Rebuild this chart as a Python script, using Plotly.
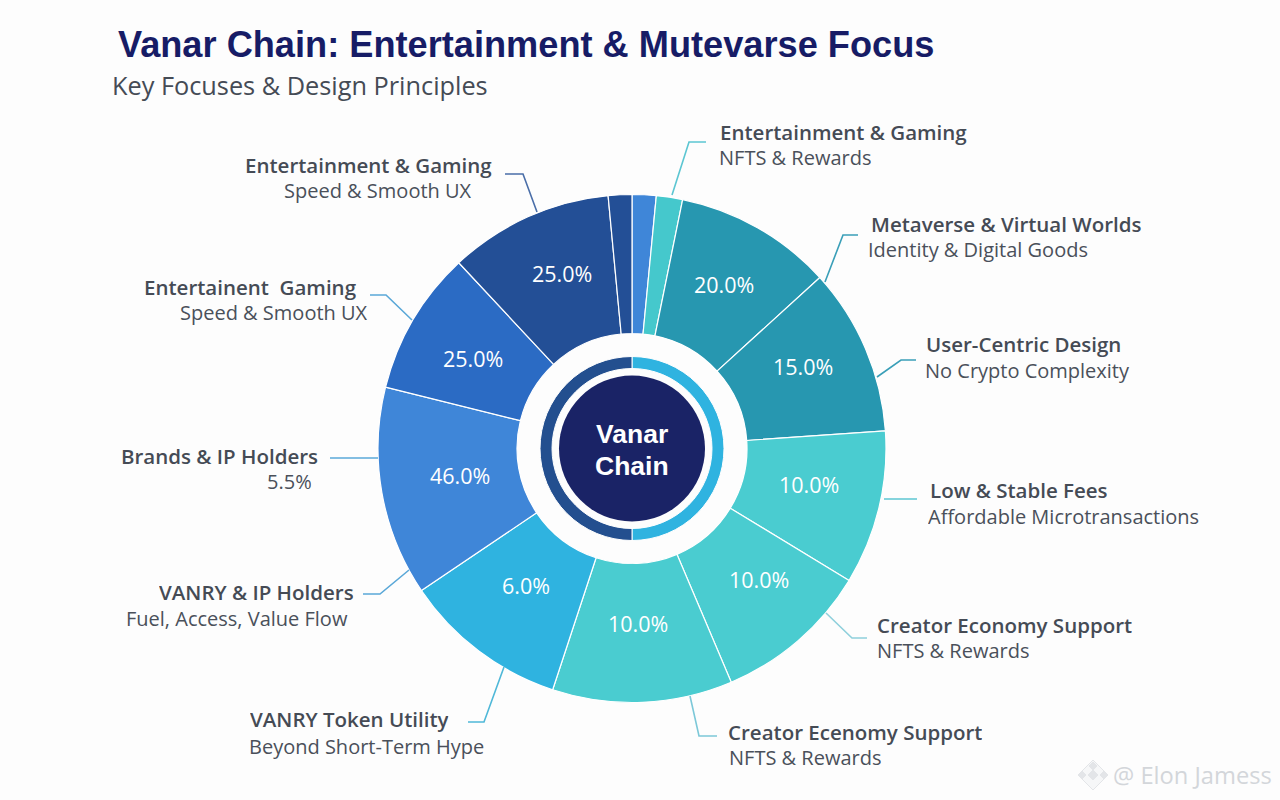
import plotly.graph_objects as go

W, H = 1280, 800
CX, CY = 632, 448.5

# Data
slice_sweep_deg = [5.5, 6, 36.2, 38.3, 35.3, 35.7, 41.2, 37.8, 48, 33, 37.6, 5.4]
slice_labels = ["20.0%", "15.0%", "10.0%", "10.0%", "10.0%", "6.0%", "46.0%", "25.0%", "25.0%"]
slice_colors = ["#3f86d8", "#45c8cc", "#2797b0", "#2797b0", "#4accd0", "#4accd0", "#4accd0",
                "#2fb3e0", "#3f86d8", "#2b6bc4", "#234f96", "#234f96"]
ring_values = [1, 1]
ring_colors = ["#2fb3e0", "#234f8f"]

headings = ["Entertainment & Gaming", "Metaverse & Virtual Worlds", "User-Centric Design", "Low & Stable Fees",
            "Creator Economy Support", "Creator Ecenomy Support", "VANRY Token Utility", "VANRY & IP Holders",
            "Brands & IP Holders", "Entertainent  Gaming", "Entertainment & Gaming"]
subheads = ["NFTS & Rewards", "Identity & Digital Goods", "No Crypto Complexity", "Affordable Microtransactions",
            "NFTS & Rewards", "NFTS & Rewards", "Beyond Short-Term Hype", "Fuel, Access, Value Flow",
            "5.5%", "Speed & Smooth UX", "Speed & Smooth UX"]

# Layout of the percentage labels and side labels
pct_pos = [(724, 284), (803, 366), (809, 485), (759, 579), (638, 623), (526, 585), (460, 475), (473, 358), (562, 273)]
label_pos = [(720, 133, 719, 158, "left"), (871, 226, 868, 251, "left"), (926, 345, 925, 371, "left"),
             (930, 491, 928, 517, "left"), (877, 626, 877, 651, "left"), (728, 733, 729, 758, "left"),
             (250, 720, 249, 747, "left"), (354, 593, 348, 619, "right"), (318, 457, 312, 482, "right"),
             (357, 288, 368, 313, "right"), (492, 167, 472, 192, "right")]
leaders = [([(672, 195), (689, 142), (706, 142)], "#5cc6d2"),
           ([(825, 282), (843, 235), (858, 235)], "#3a9fb8"),
           ([(877, 377), (901, 360), (916, 360)], "#3a9fb8"),
           ([(884, 499), (917, 499)], "#5cc6d2"),
           ([(826, 613), (852, 638), (867, 638)], "#8fd0dc"),
           ([(690, 696), (699, 736), (717, 736)], "#7cc8d8"),
           ([(504, 667), (484, 722), (468, 722)], "#4fb8d8"),
           ([(409, 570), (380, 594), (363, 594)], "#5aa8d8"),
           ([(378, 458), (330, 458)], "#5aa8d8"),
           ([(412, 320), (386, 295), (370, 295)], "#5aa8d8"),
           ([(537, 212), (523, 174), (505, 174)], "#4a6ea8")]


def px(x):
    return x / W


def py(y):
    return 1 - y / H


def dom(r):
    return dict(x=[px(CX - r), px(CX + r)], y=[py(CY + r), py(CY - r)])


fig = go.Figure()
fig.add_trace(go.Pie(values=slice_sweep_deg, textinfo="none", sort=False, direction="clockwise", rotation=0,
                     hole=115 / 254, domain=dom(254),
                     marker=dict(colors=slice_colors, line=dict(color="white", width=1.2)), showlegend=False))
fig.add_trace(go.Pie(values=ring_values, textinfo="none", sort=False, direction="clockwise", rotation=0,
                     hole=80 / 92, domain=dom(92),
                     marker=dict(colors=ring_colors, line=dict(color="white", width=1)), showlegend=False))
fig.add_trace(go.Pie(values=[1], textinfo="none", hole=0, domain=dom(73),
                     marker=dict(colors=["#1a2366"], line=dict(width=0)), showlegend=False))

ann = []


def text(x, y, s, size, color, anchor="left", family="Open Sans", weight=None, height=None):
    f = dict(family=family, size=size, color=color)
    if weight:
        f["weight"] = weight
    a = dict(x=px(x), y=py(y), xref="paper", yref="paper", text=s, showarrow=False,
             xanchor=anchor, yanchor="middle", font=f, borderpad=0, borderwidth=0)
    if height:
        # only the empty top of the line box is trimmed, so descenders stay whole
        a["height"] = height
        a["valign"] = "bottom"
    ann.append(a)


text(118, 44, "Vanar Chain: Entertainment & Mutevarse Focus", 36.2, "#171c66", family="Liberation Sans", weight=700)
text(112, 85, "Key Focuses & Design Principles", 25.3, "#454b55")
for s, (x, y) in zip(slice_labels, pct_pos):
    text(x, y, s, 21.5, "white", "center")
for h, s, (hx, hy, sx, sy, a) in zip(headings, subheads, label_pos):
    text(hx, hy + 1, h, 20.5, "#454b55", a, weight=600, height=23)
    text(sx, sy + 1, s, 20, "#4a505a", a, height=23)
text(632, 434, "Vanar", 26.5, "white", "center", "Liberation Sans", 700)
text(632, 466, "Chain", 26.5, "white", "center", "Liberation Sans", 700)
text(1113, 775, "@ Elon Jamess", 23.7, "#d3d6da")

shapes = []
for pts, color in leaders:
    path = "M " + " L ".join(f"{px(x)} {py(y)}" for x, y in pts)
    shapes.append(dict(type="path", xref="paper", yref="paper", path=path, line=dict(color=color, width=1.6)))
# watermark logo
for dx, dy, r, fill in [(1093, 775, 15, "#f6f7f8"), (1093, 775, 5, "#e3e5e8"), (1093, 766, 4, "#e3e5e8"),
                        (1082, 775, 4, "#e3e5e8"), (1104, 775, 4, "#e3e5e8")]:
    path = (f"M {px(dx)} {py(dy - r)} L {px(dx + r)} {py(dy)} L {px(dx)} {py(dy + r)} "
            f"L {px(dx - r)} {py(dy)} Z")
    shapes.append(dict(type="path", xref="paper", yref="paper", path=path,
                       fillcolor=fill, line=dict(color="#e3e5e8", width=1)))

fig.update_layout(width=W, height=H, margin=dict(l=0, r=0, t=0, b=0), paper_bgcolor="#fdfdfd",
                  plot_bgcolor="#fdfdfd", annotations=ann, shapes=shapes, showlegend=False)
fig.write_html("out.html", config={"displayModeBar": False},
               post_script="document.body.style.margin='0';document.body.style.overflow='hidden';")
